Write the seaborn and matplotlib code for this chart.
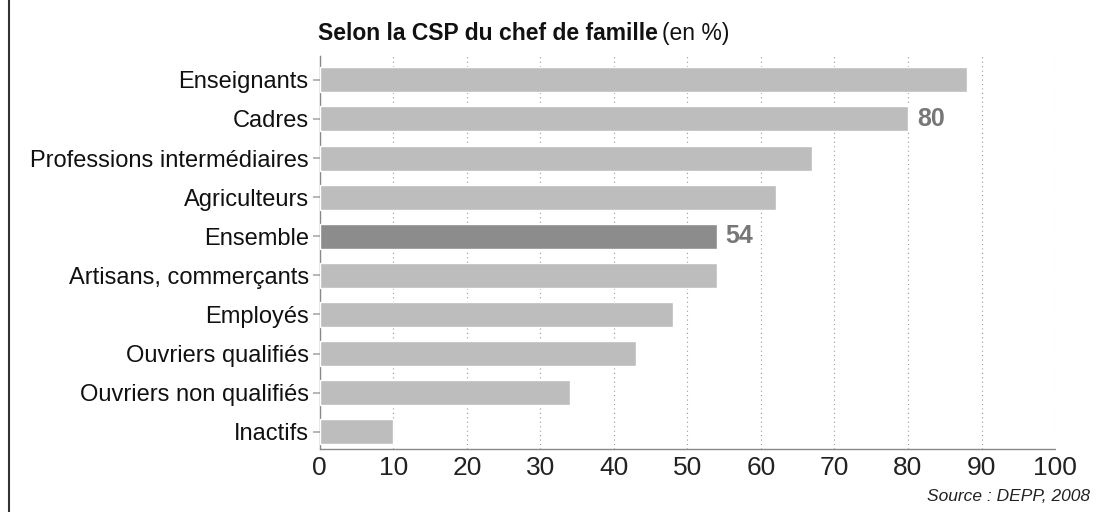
import pandas as pd
import seaborn as sns
import matplotlib.pyplot as plt
from matplotlib.lines import Line2D

categories = ["Enseignants", "Cadres", "Professions intermédiaires", "Agriculteurs",
              "Ensemble", "Artisans, commerçants", "Employés", "Ouvriers qualifiés",
              "Ouvriers non qualifiés", "Inactifs"]
values = [88, 80, 67, 62, 54, 54, 48, 43, 34, 10]
labelled = {"Cadres": "80", "Ensemble": "54"}

df = pd.DataFrame({"CSP": categories, "Pourcentage": values})
colors = {c: ("#8c8c8c" if c == "Ensemble" else "#bdbdbd") for c in categories}

sns.set_style("white")
plt.rcParams["font.family"] = ["Liberation Sans", "DejaVu Sans"]

fig = plt.figure(figsize=(10.99, 5.12), dpi=100)
ax = fig.add_axes([0.291, 0.123, 0.669, 0.77])

sns.barplot(data=df, x="Pourcentage", y="CSP", hue="CSP", palette=colors,
            legend=False, width=0.64, ax=ax, zorder=3)

ax.set_xlim(0, 100)
ax.set_ylim(9.44, -0.64)
ax.set_xticks(range(0, 101, 10))
ax.xaxis.grid(True, linestyle=(0, (1, 3)), color="#999999", linewidth=0.8, zorder=0)
ax.set_xlabel("")
ax.set_ylabel("")
ax.tick_params(axis="x", labelsize=19, length=0, pad=5, colors="#222222")
ax.tick_params(axis="y", labelsize=17, length=5, width=1.2, color="#aaaaaa",
               pad=3, left=True, labelcolor="#111111")

for s in ["top", "right"]:
    ax.spines[s].set_visible(False)
for s in ["left", "bottom"]:
    ax.spines[s].set_linestyle((0, (1, 1)))
    ax.spines[s].set_color("#888888")
    ax.spines[s].set_linewidth(1)

for i, (c, v) in enumerate(zip(categories, values)):
    if c in labelled:
        ax.text(v + 1.2, i, labelled[c], va="center", ha="left",
                fontsize=18, fontweight="bold", color="#777777")

t = fig.text(0.289, 0.935, "Selon la CSP du chef de famille", fontsize=16.5,
             fontweight="bold", ha="left", va="center", color="#111111")
fig.canvas.draw()
bb = t.get_window_extent().transformed(fig.transFigure.inverted())
fig.text(bb.x1 + 0.004, 0.935, "(en %)", fontsize=16.5, ha="left", va="center",
         color="#111111")
fig.text(0.992, 0.03, "Source : DEPP, 2008", fontsize=12.5, style="italic",
         ha="right", va="center", color="#222222")

fig.add_artist(Line2D([0.008, 0.008], [0, 1], color="#333333", linewidth=1.5))

fig.savefig("out.png", dpi=100)
